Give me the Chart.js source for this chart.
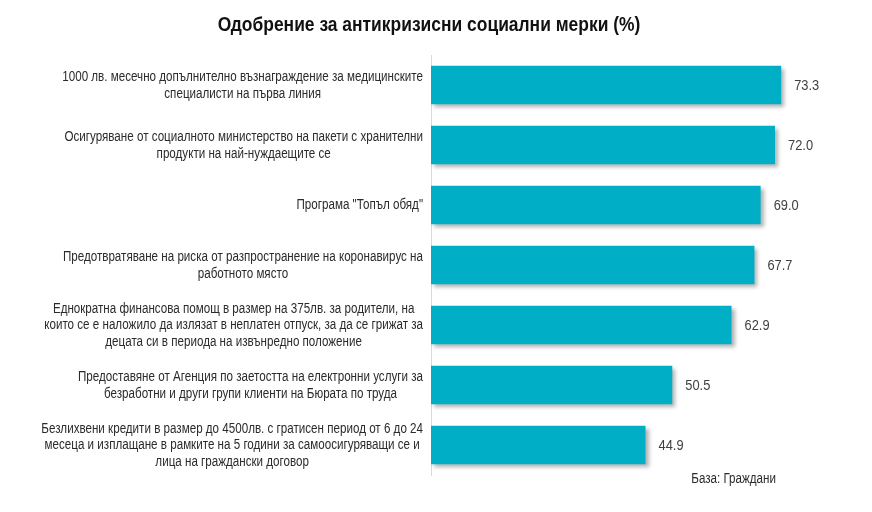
<!DOCTYPE html>
<html>
<head>
<meta charset="utf-8">
<script src="https://cdn.jsdelivr.net/npm/chart.js@4/dist/chart.umd.min.js"></script>
<style>
  html, body { margin: 0; padding: 0; background: #fff; }
  #wrap { width: 872px; height: 512px; position: relative; }
</style>
</head>
<body>
<div id="wrap"><canvas id="chart"></canvas></div>
<script>
const categories = [
    ['1000 лв. месечно допълнително възнаграждение за медицинските', 'специалисти на първа линия'],
    ['Осигуряване от социалното министерство на пакети с хранителни', 'продукти на най-нуждаещите се'],
    ['Програма "Топъл обяд"'],
    ['Предотвратяване на риска от разпространение на коронавирус на', 'работното място'],
    ['Еднократна финансова помощ в размер на 375лв. за родители, на', 'които се е наложило да излязат в неплатен отпуск, за да се грижат за', 'децата си в периода на извънредно положение'],
    ['Предоставяне от Агенция по заетостта на електронни услуги за', 'безработни и други групи клиенти на Бюрата по труда'],
    ['Безлихвени кредити в размер до 4500лв. с гратисен период от 6 до 24', 'месеца и изплащане в рамките на 5 години за самоосигуряващи се и', 'лица на граждански договор']
];
const approval = [73.3, 72.0, 69.0, 67.7, 62.9, 50.5, 44.9];
const chartTitle = 'Одобрение за антикризисни социални мерки (%)';
const baseNote = 'База: Граждани';

// no narrow face installed, so Liberation Sans gets squeezed horizontally
const FONT = "'Liberation Sans', Arial, sans-serif";
const NARROW = 0.83;

function narrowText(ctx, text, x, y, align) {
    ctx.save();
    ctx.translate(x, y);
    ctx.scale(NARROW, 1);
    ctx.textAlign = align;
    ctx.fillText(text, 0, 0);
    ctx.restore();
}

// drop shadow under the bars
const barShadow = {
    id: 'barShadow',
    beforeDatasetsDraw(chart) {
        const ctx = chart.ctx;
        ctx.save();
        ctx.shadowColor = 'rgba(0, 0, 0, 0.3)';
        ctx.shadowBlur = 4;
        ctx.shadowOffsetX = 3;
        ctx.shadowOffsetY = 3;
    },
    afterDatasetsDraw(chart) {
        chart.ctx.restore();
    }
};

// title, category labels (each block centred, blocks right-aligned to the axis) and the base note
const textLayer = {
    id: 'textLayer',
    afterDraw(chart) {
        const ctx = chart.ctx;
        const area = chart.chartArea;
        const yScale = chart.scales.y;
        ctx.save();
        ctx.textBaseline = 'middle';

        ctx.fillStyle = '#111111';
        ctx.font = 'bold 21px ' + FONT;
        narrowText(ctx, chartTitle, 429, 25, 'center');

        ctx.fillStyle = '#2b2b2b';
        ctx.font = '14px ' + FONT;
        const right = area.left - 8;
        const lineH = 16.5;
        categories.forEach((lines, i) => {
            const yc = yScale.getPixelForTick(i) + 0.5;
            const w = Math.max(...lines.map(l => ctx.measureText(l).width)) * NARROW;
            const xc = right - w / 2;
            const y0 = yc - (lines.length - 1) * lineH / 2;
            lines.forEach((l, k) => narrowText(ctx, l, xc, y0 + k * lineH, 'center'));
        });

        narrowText(ctx, baseNote, chart.scales.x.getPixelForValue(72.2), area.bottom + 4, 'right');
        ctx.restore();
    }
};

// numbers at the end of the bars
const valueLabels = {
    id: 'valueLabels',
    afterDatasetsDraw(chart) {
        const ctx = chart.ctx;
        const meta = chart.getDatasetMeta(0);
        ctx.save();
        ctx.font = '15.5px ' + FONT;
        ctx.fillStyle = '#404040';
        ctx.textBaseline = 'middle';
        meta.data.forEach((bar, i) => {
            narrowText(ctx, approval[i].toFixed(1), bar.x + 13, bar.y + 1, 'left');
        });
        ctx.restore();
    }
};

new Chart(document.getElementById('chart'), {
    type: 'bar',
    data: {
        labels: categories,
        datasets: [{
            data: approval,
            backgroundColor: '#00AFC6',
            borderWidth: 0,
            barPercentage: 0.64,
            categoryPercentage: 1
        }]
    },
    options: {
        indexAxis: 'y',
        responsive: true,
        maintainAspectRatio: false,
        animation: false,
        layout: {
            padding: { left: 0, right: 11, top: 55, bottom: 37 }
        },
        scales: {
            x: {
                display: false,
                min: 0,
                max: 90
            },
            y: {
                afterFit(scale) {
                    scale.width = 431;
                },
                grid: { display: false, drawTicks: false },
                border: { display: true, color: '#d9d9d9', width: 1 },
                ticks: { display: false }
            }
        },
        plugins: {
            legend: { display: false },
            tooltip: { enabled: false },
            title: { display: false }
        }
    },
    plugins: [barShadow, valueLabels, textLayer]
});
</script>
</body>
</html>
